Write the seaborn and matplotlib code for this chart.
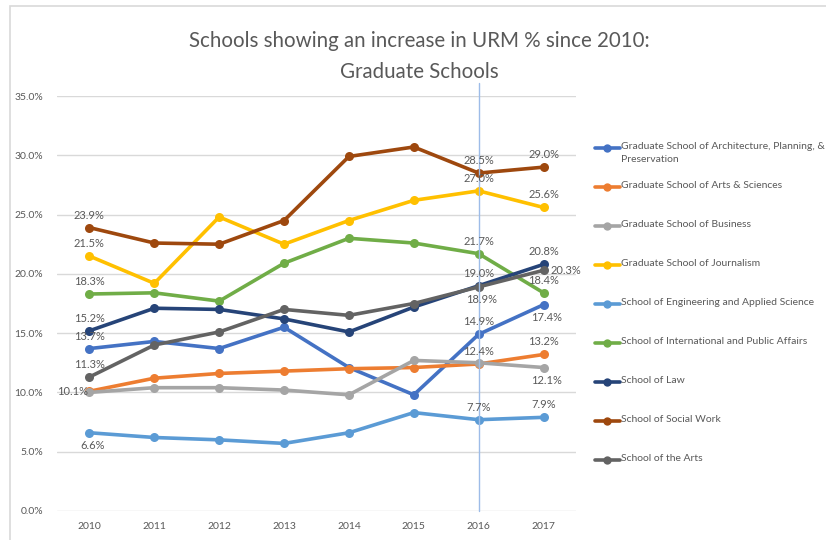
import matplotlib
matplotlib.use("Agg")
import matplotlib.pyplot as plt
import pandas as pd
import seaborn as sns
from matplotlib.lines import Line2D
from matplotlib.patches import Rectangle
from matplotlib.ticker import PercentFormatter

sns.set_theme(style="white")
plt.rcParams["font.family"] = ["Lato", "DejaVu Sans"]

# 数据
years = [2010, 2011, 2012, 2013, 2014, 2015, 2016, 2017]
schools = [
    "Graduate School of Architecture, Planning, & Preservation",
    "Graduate School of Arts & Sciences",
    "Graduate School of Business",
    "Graduate School of Journalism",
    "School of Engineering and Applied Science",
    "School of International and Public Affairs",
    "School of Law",
    "School of Social Work",
    "School of the Arts",
]
arch = [13.7, 14.3, 13.7, 15.5, 12.1, 9.8, 14.9, 17.4]
arts_sci = [10.1, 11.2, 11.6, 11.8, 12.0, 12.1, 12.4, 13.2]
business = [10.0, 10.4, 10.4, 10.2, 9.8, 12.7, 12.5, 12.1]
journalism = [21.5, 19.2, 24.8, 22.5, 24.5, 26.2, 27.0, 25.6]
engineering = [6.6, 6.2, 6.0, 5.7, 6.6, 8.3, 7.7, 7.9]
sipa = [18.3, 18.4, 17.7, 20.9, 23.0, 22.6, 21.7, 18.4]
law = [15.2, 17.1, 17.0, 16.2, 15.1, 17.2, 19.0, 20.8]
social_work = [23.9, 22.6, 22.5, 24.5, 29.9, 30.7, 28.5, 29.0]
the_arts = [11.3, 14.0, 15.1, 17.0, 16.5, 17.5, 18.9, 20.3]
series = [arch, arts_sci, business, journalism, engineering, sipa, law, social_work, the_arts]

colors = ["#4472C4", "#ED7D31", "#A5A5A5", "#FFC000", "#5B9BD5",
          "#70AD47", "#264478", "#9E480E", "#636363"]

# 数据标签：(系列序号, 年份, 位置)
labels = [
    (7, 2010, "above"), (3, 2010, "above"), (5, 2010, "above"), (6, 2010, "above"),
    (0, 2010, "above"), (8, 2010, "above"), (1, 2010, "left"), (4, 2010, "below"),
    (7, 2016, "above"), (3, 2016, "above"), (5, 2016, "above"), (6, 2016, "above"),
    (8, 2016, "below"), (0, 2016, "above"), (1, 2016, "above"), (4, 2016, "above"),
    (7, 2017, "above"), (3, 2017, "above"), (6, 2017, "above"), (8, 2017, "right"),
    (5, 2017, "above"), (0, 2017, "below"), (1, 2017, "above"), (2, 2017, "below"),
    (4, 2017, "above"),
]

rows = []
for name, vals in zip(schools, series):
    for y, v in zip(years, vals):
        rows.append({"school": name, "year": y, "value": v})
df = pd.DataFrame(rows)

W, H = 826, 540
fig = plt.figure(figsize=(W / 100, H / 100), dpi=100)
ax = fig.add_axes([57 / W, 1 - 511 / H, (576 - 57) / W, (511 - 96) / H])

# 外框
fig.patches.append(Rectangle((10 / W, -0.1), 1.2, 1 - 6 / H + 0.1, transform=fig.transFigure,
                             fill=False, edgecolor="#D9D9D9", linewidth=1.2))

sns.lineplot(data=df, x="year", y="value", hue="school", hue_order=schools,
             palette=colors, marker="o", markersize=6.5, markeredgewidth=0,
             linewidth=2.6, legend=False, ax=ax, zorder=3)

ax.set_xlim(2009.5, 2017.5)
ax.set_ylim(0, 35)
ax.set_yticks(range(0, 36, 5))
ax.yaxis.set_major_formatter(PercentFormatter(decimals=1))
ax.set_xticks(years)
ax.set_xlabel("")
ax.set_ylabel("")
ax.grid(axis="y", color="#D9D9D9", linewidth=1)
ax.grid(axis="x", visible=False)
for s in ax.spines.values():
    s.set_visible(False)
ax.tick_params(axis="both", length=0, labelsize=7.5, labelcolor="#595959")
ax.tick_params(axis="x", pad=8)
ax.tick_params(axis="y", pad=10)

# 2016 竖线
ax.axvline(2016, ymin=0, ymax=(35 + 1.1) / 35, color="#9DBCE8", linewidth=1,
           clip_on=False, zorder=4)

# 数据标签
offsets = {"above": (0, 9, "center", "center"), "below": (2, -9, "center", "center"),
           "left": (-12, 0, "center", "center"), "right": (16, 0, "center", "center")}
for idx, yr, pos in labels:
    v = series[idx][years.index(yr)]
    dx, dy, ha, va = offsets[pos]
    ax.annotate(f"{v:.1f}%", (yr, v), xytext=(dx, dy), textcoords="offset points",
                ha=ha, va=va, fontsize=8, color="#595959", zorder=5)

# 标题
fig.text(0.508, 1 - 41 / H, "Schools showing an increase in URM % since 2010:",
         ha="center", va="center", fontsize=14.8, color="#595959")
fig.text(0.508, 1 - 72 / H, "Graduate Schools",
         ha="center", va="center", fontsize=14.8, color="#595959")

# 图例
leg_names = ["Graduate School of Architecture, Planning, &\nPreservation"] + schools[1:]
for i, (name, c) in enumerate(zip(leg_names, colors)):
    yy = 1 - (148 + i * 39) / H
    fig.lines.append(Line2D([595 / W, 620 / W], [yy, yy], transform=fig.transFigure,
                            color=c, linewidth=2.6))
    fig.lines.append(Line2D([607 / W], [yy], transform=fig.transFigure, color=c,
                            marker="o", markersize=6, markeredgewidth=0))
    fig.text(621 / W, yy + 6 / H, name, ha="left", va="top", fontsize=7.5,
             color="#595959", linespacing=1.5)

fig.savefig("out.png", dpi=100)
